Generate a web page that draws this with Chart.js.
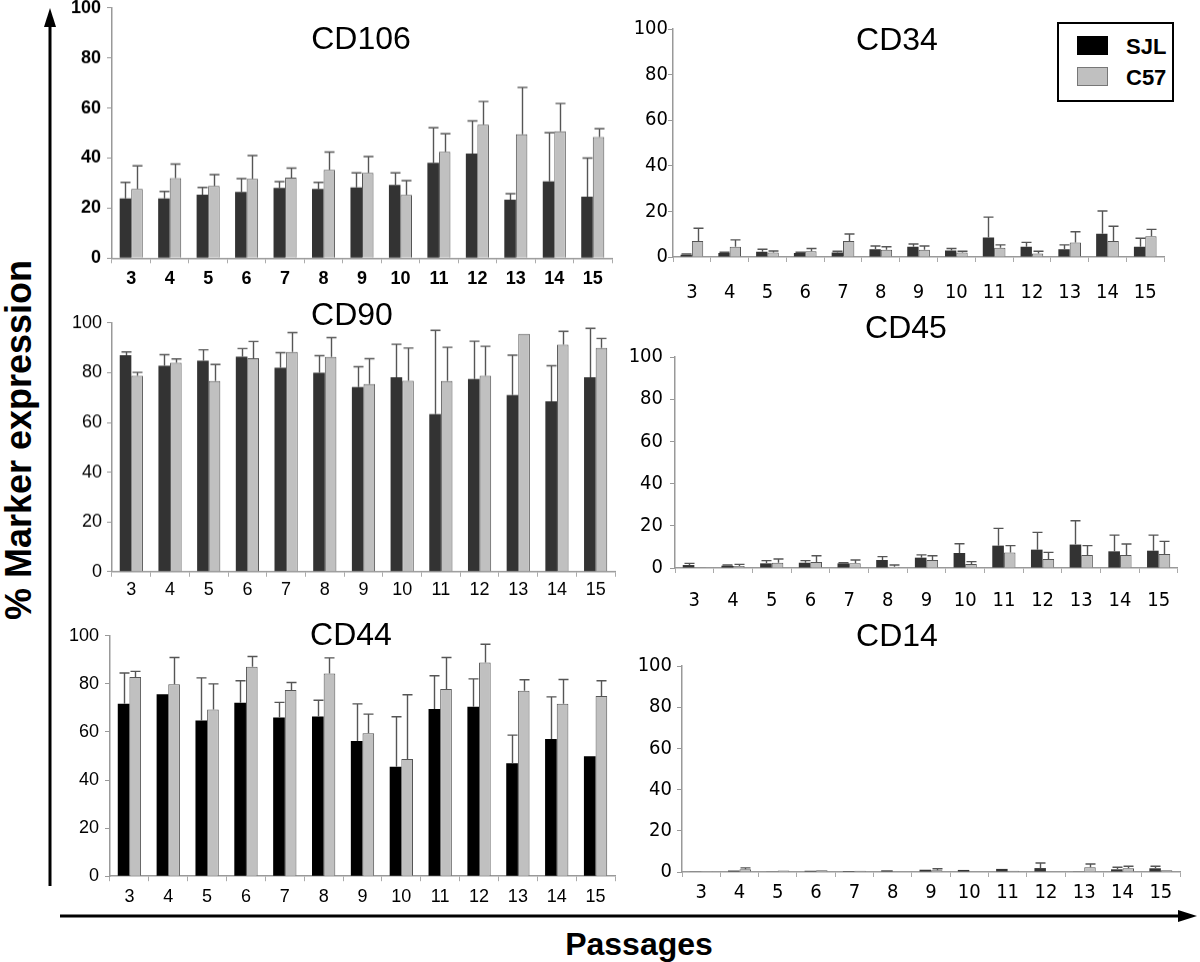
<!DOCTYPE html>
<html><head><meta charset="utf-8">
<script src="https://cdn.jsdelivr.net/npm/chart.js@4.4.0/dist/chart.umd.min.js"></script>
<style>
html,body{margin:0;padding:0;background:#fff;}
body{width:1200px;height:962px;position:relative;overflow:hidden;font-family:'Liberation Sans',Arial,sans-serif;}
.panel{position:absolute;}
.title{position:absolute;font-size:32px;transform:translate(-50%,-50%);white-space:nowrap;color:#000;line-height:1;}
.axlabel{position:absolute;font-weight:bold;white-space:nowrap;line-height:1;color:#000;}
#legend{position:absolute;left:1057px;top:22px;width:113px;height:76px;border:2px solid #000;background:#fff;}
.sw{position:absolute;left:18px;width:31px;height:19px;box-sizing:border-box;}
.lt{position:absolute;left:67px;font-weight:bold;font-size:22px;line-height:1;}
</style></head>
<body>
<svg width="1200" height="962" style="position:absolute;left:0;top:0">
  <line x1="50" y1="886" x2="50" y2="24" stroke="#000" stroke-width="3"/>
  <polygon points="50,8 44,27 56,27" fill="#000"/>
  <line x1="60" y1="916" x2="1180" y2="916" stroke="#000" stroke-width="3"/>
  <polygon points="1197,916 1178,910 1178,922" fill="#000"/>
</svg>
<div class="axlabel" style="left:19px;top:440px;font-size:36px;transform:translate(-50%,-50%) rotate(-90deg);">% Marker expression</div>
<div class="axlabel" style="left:639px;top:944px;font-size:32px;transform:translate(-50%,-50%);">Passages</div>
<div id="legend">
  <div class="sw" style="top:12px;background:#000;"></div><div class="lt" style="top:12px;">SJL</div>
  <div class="sw" style="top:43px;background:#c0c0c0;border:1px solid #777;"></div><div class="lt" style="top:43px;">C57</div>
</div>
<script>
// ---- data ----
const passages = ['3','4','5','6','7','8','9','10','11','12','13','14','15'];
const yTicks = [0,20,40,60,80,100];

const cd106Sjl    = [23.9,23.9,25.4,26.5,28.1,27.7,28.3,29.3,38.1,41.8,23.4,30.7,24.6];
const cd106SjlErr = [6.4,2.8,2.9,5.3,2.5,2.6,5.8,4.8,14.0,13.0,2.4,19.4,15.4];
const cd106C57    = [27.7,32.0,28.9,31.7,32.2,35.3,34.1,25.3,42.5,53.3,49.5,50.7,48.4];
const cd106C57Err = [9.2,5.6,4.5,9.3,3.8,7.1,6.5,5.7,7.2,9.3,18.7,11.1,3.3];

const cd34Sjl    = [1.0,1.8,2.3,1.8,2.0,3.4,4.5,2.9,8.6,4.5,3.4,10.2,4.5];
const cd34SjlErr = [0.3,0.3,1.1,0.3,0.5,1.4,1.2,0.8,8.9,1.9,1.9,10.0,3.7];
const cd34C57    = [7.0,4.5,2.0,2.5,7.0,3.2,3.2,2.0,4.1,1.5,6.4,7.0,9.1];
const cd34C57Err = [5.6,3.0,0.6,1.2,3.1,1.3,1.6,0.5,1.2,1.0,4.7,6.5,3.0];

const cd90Sjl    = [87.0,82.8,84.8,86.4,82.0,80.0,74.2,78.1,63.3,77.4,71.0,68.5,78.1];
const cd90SjlErr = [1.3,4.4,4.4,3.3,6.0,6.8,8.2,13.3,33.7,15.2,16.0,14.3,19.7];
const cd90C57    = [78.8,84.0,76.6,85.8,88.3,86.3,75.4,76.7,76.6,78.8,95.6,91.3,89.9];
const cd90C57Err = [1.3,1.5,6.7,6.7,7.8,7.8,10.2,13.2,13.6,11.8,0,5.3,3.8];

const cd45Sjl    = [1.4,1.1,2.2,2.5,2.2,3.8,4.9,7.1,10.6,8.7,11.1,7.9,8.2];
const cd45SjlErr = [0.8,0.3,1.3,1.0,0.3,1.6,1.3,4.4,8.2,8.2,11.3,7.7,7.4];
const cd45C57    = [0.3,0.9,2.5,2.8,2.2,0.6,3.8,1.9,7.4,4.3,6.2,6.2,6.6];
const cd45C57Err = [0,0.8,1.8,3.0,1.6,0.8,2.0,1.1,3.2,3.1,4.4,5.2,6.0];

const cd44Sjl    = [71.7,75.7,64.8,72.1,66.0,66.4,56.2,45.5,69.6,70.5,47.0,57.1,49.9];
const cd44SjlErr = [12.8,0,17.7,9.2,6.3,6.8,15.5,20.8,13.8,11.6,11.7,17.5,0];
const cd44C57    = [82.9,79.8,69.3,87.1,77.5,84.3,59.5,48.8,77.9,88.9,77.1,71.7,75.0];
const cd44C57Err = [2.3,11.2,10.7,4.3,3.1,6.5,7.9,26.7,13.1,7.6,4.6,10.1,6.3];

const cd14Sjl    = [0.3,0.7,0.3,0.6,0.5,0.8,1.1,1.0,1.5,1.9,0.3,1.3,1.8];
const cd14SjlErr = [0,0,0,0,0,0,0,0,0,2.5,0,1.0,1.0];
const cd14C57    = [0.1,1.3,0.7,0.8,0.6,0.3,0.8,0.3,0.6,0.3,2.3,1.8,0.8];
const cd14C57Err = [0,0.7,0,0,0,0,0.8,0,0,0,1.6,1.0,0];

// ---- layout ----
const LEFT_FONT = {family:"'Liberation Sans', Arial, sans-serif", size:18};
const LEFT_FONT_B = {family:"'Liberation Sans', Arial, sans-serif", size:18, weight:'bold'};
const RIGHT_FONT = {family:"'Liberation Sans Narrow', 'DejaVu Sans Condensed', sans-serif", size:20};

const panels = [
  {title:'CD106', tx:361, ty:38, sjl:cd106Sjl, sjlErr:cd106SjlErr, c57:cd106C57, c57Err:cd106C57Err,
   L:112, R:612, T:8, B:257.5, dark:'#333333', font:LEFT_FONT_B, xPad:5, yPad:6},
  {title:'CD34', tx:897, ty:39, sjl:cd34Sjl, sjlErr:cd34SjlErr, c57:cd34C57, c57Err:cd34C57Err,
   L:673, R:1164, T:29, B:257, dark:'#333333', font:RIGHT_FONT, xPad:19, yPad:0},
  {title:'CD90', tx:352, ty:314, sjl:cd90Sjl, sjlErr:cd90SjlErr, c57:cd90C57, c57Err:cd90C57Err,
   L:112, R:615, T:322.7, B:570.7, dark:'#333333', font:LEFT_FONT, xPad:2, yPad:5},
  {title:'CD45', tx:906, ty:327, sjl:cd45Sjl, sjlErr:cd45SjlErr, c57:cd45C57, c57Err:cd45C57Err,
   L:675, R:1178, T:357.3, B:568.3, dark:'#333333', font:RIGHT_FONT, xPad:16, yPad:7},
  {title:'CD44', tx:351, ty:634, sjl:cd44Sjl, sjlErr:cd44SjlErr, c57:cd44C57, c57Err:cd44C57Err,
   L:110, R:615, T:635.3, B:875.7, dark:'#000000', font:LEFT_FONT, xPad:5, yPad:6},
  {title:'CD14', tx:897, ty:635, sjl:cd14Sjl, sjlErr:cd14SjlErr, c57:cd14C57, c57Err:cd14C57Err,
   L:682, R:1180, T:665.7, B:871.7, dark:'#333333', font:RIGHT_FONT, xPad:4, yPad:5}
];

const errPlugin = {
  id:'errbars',
  afterDatasetsDraw(chart){
    const ctx = chart.ctx, ys = chart.scales.y;
    chart.data.datasets.forEach((ds, di) => {
      const meta = chart.getDatasetMeta(di);
      meta.data.forEach((bar, i) => {
        const e = ds.err[i];
        if (!e) return;
        const top = ys.getPixelForValue(ds.data[i] + e);
        const x = Math.round(bar.x) + 0.5;
        ctx.save();
        ctx.strokeStyle = '#555';
        ctx.lineWidth = 1.4;
        ctx.beginPath();
        ctx.moveTo(x, bar.y);
        ctx.lineTo(x, top);
        ctx.moveTo(x - 5, top);
        ctx.lineTo(x + 5, top);
        ctx.stroke();
        ctx.restore();
      });
    });
  }
};

const YW = 60, PT = 14, PR = 8, XH = 42;

panels.forEach(p => {
  const div = document.createElement('div');
  div.className = 'panel';
  let cl = p.L - YW, ct = p.T - PT, cw = YW + (p.R - p.L) + PR, ch = PT + (p.B - p.T) + XH;
  Object.assign(div.style, {left: cl+'px', top: ct+'px', width: cw+'px', height: ch+'px'});
  const cv = document.createElement('canvas');
  div.appendChild(cv);
  document.body.appendChild(div);

  const t = document.createElement('div');
  t.className = 'title';
  t.textContent = p.title;
  Object.assign(t.style, {left: p.tx+'px', top: p.ty+'px'});
  document.body.appendChild(t);

  const chart = new Chart(cv, {
    type:'bar',
    data:{
      labels: passages,
      datasets:[
        {label:'SJL', data:p.sjl, err:p.sjlErr, backgroundColor:p.dark, borderColor:'#222', borderWidth:0,
         categoryPercentage:0.6, barPercentage:1.0},
        {label:'C57', data:p.c57, err:p.c57Err, backgroundColor:'#c0c0c0', borderColor:'#555', borderWidth:1,
         categoryPercentage:0.6, barPercentage:1.0}
      ]
    },
    options:{
      responsive:true, maintainAspectRatio:false, animation:false,
      devicePixelRatio:1,
      layout:{padding:{top:PT, right:PR, left:0, bottom:0}},
      plugins:{legend:{display:false}, tooltip:{enabled:false}, title:{display:false}},
      scales:{
        x:{
          grid:{display:true, drawOnChartArea:false, drawTicks:true, tickLength:5, color:'#aaa', offset:true},
          border:{display:true, color:'#999', width:1.5},
          ticks:{font:p.font, color:'#000', padding:p.xPad, maxRotation:0, autoSkip:false},
          afterFit:s => { s.height = XH; }
        },
        y:{
          min:0, max:100,
          afterBuildTicks:s => { s.ticks = yTicks.map(v => ({value:v})); },
          ticks:{font:p.font, color:'#000', padding:p.yPad},
          grid:{display:true, drawOnChartArea:false, drawTicks:true, tickLength:5, color:'#999'},
          border:{display:true, color:'#999', width:1.5},
          afterFit:s => { s.width = YW; }
        }
      }
    },
    plugins:[errPlugin]
  });

  // align chart area exactly to target box
  const ca = chart.chartArea;
  const dx = p.L - (cl + ca.left), dy = p.T - (ct + ca.top);
  const dw = (p.R - p.L) - (ca.right - ca.left), dh = (p.B - p.T) - (ca.bottom - ca.top);
  if (Math.abs(dx) > 0.4 || Math.abs(dy) > 0.4 || Math.abs(dw) > 0.4 || Math.abs(dh) > 0.4) {
    cl += dx; ct += dy; cw += dw; ch += dh;
    Object.assign(div.style, {left: cl+'px', top: ct+'px', width: cw+'px', height: ch+'px'});
    chart.resize();
  }
});
</script>
</body></html>
